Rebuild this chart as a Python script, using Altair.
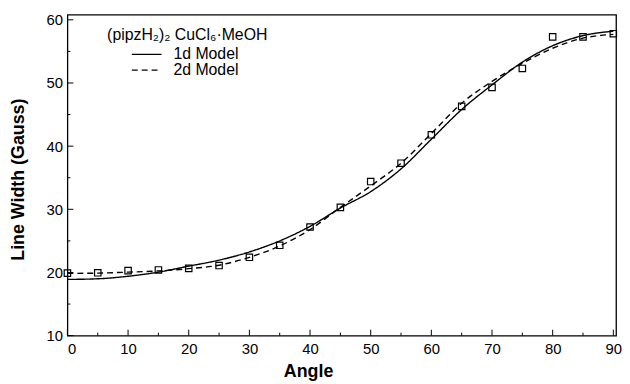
import altair as alt
import pandas as pd

# ---- data ----
angles = [0, 5, 10, 15, 20, 25, 30, 35, 40, 45, 50, 55, 60, 65, 70, 75, 80, 85, 90]
measured = [19.9, 19.95, 20.3, 20.4, 20.65, 21.1, 22.4, 24.3, 27.2, 30.3, 34.4, 37.3,
            41.8, 46.3, 49.3, 52.3, 57.3, 57.3, 57.8]
model_1d = [18.9, 19.0, 19.4, 20.05, 21.0, 21.95, 23.25, 25.0, 27.3, 30.2, 32.8, 36.4,
            41.1, 45.8, 49.7, 53.3, 55.9, 57.5, 58.2]
model_2d = [19.85, 19.9, 20.05, 20.25, 20.6, 21.15, 22.4, 24.2, 26.8, 30.3, 33.7, 37.3,
            42.0, 46.8, 50.25, 53.1, 55.5, 57.1, 57.7]
model_names = ["1d Model", "2d Model"]
legend_title = "(pipzH\u2082)\u2082 CuCl\u2086\u00b7MeOH"

x_major = [0, 10, 20, 30, 40, 50, 60, 70, 80, 90]
x_minor = [5, 15, 25, 35, 45, 55, 65, 75, 85]
y_major = [10, 20, 30, 40, 50, 60]
y_minor = [15, 25, 35, 45, 55]

# ---- layout ----
W, H = 554, 324
FONT = "Liberation Sans"

pts = pd.DataFrame({"angle": angles, "value": measured})
lines = pd.DataFrame({
    "angle": angles + angles,
    "value": model_1d + model_2d,
    "model": [model_names[0]] * len(angles) + [model_names[1]] * len(angles),
})

xs = alt.Scale(domain=[0, 90.45], nice=False, zero=False)
ys = alt.Scale(domain=[10, 60.8], nice=False, zero=False)

xaxis = alt.Axis(title="Angle", values=x_major, format="d", ticks=False, domain=False,
                 grid=False, labelFontSize=15, labelPadding=6, labelColor="black",
                 labelFont=FONT, titleFont=FONT, titleFontSize=18, titleFontWeight="bold",
                 titleColor="black", titleX=243, titleY=27)
yaxis = alt.Axis(title="Line Width (Gauss)", values=y_major, format="d", ticks=False,
                 domain=False, grid=False, labelFontSize=15, labelPadding=5,
                 labelColor="black", labelFont=FONT, titleFont=FONT, titleFontSize=18,
                 titleFontWeight="bold", titleColor="black", titleX=-40, titleY=166)

X = alt.X("angle:Q", scale=xs, axis=xaxis)
Y = alt.Y("value:Q", scale=ys, axis=yaxis)

dash = alt.StrokeDash("model:N", scale=alt.Scale(domain=model_names, range=[[1, 0], [6, 4]]),
                      legend=None)

line_layer = alt.Chart(lines).mark_line(color="black", strokeWidth=1.4,
                                        interpolate="monotone").encode(x=X, y=Y, strokeDash=dash)
point_layer = alt.Chart(pts).mark_point(shape="square", size=42, filled=False, color="black",
                                        strokeWidth=1.2, opacity=1).encode(x=X, y=Y)

xt_major = alt.Chart(pd.DataFrame({"angle": x_major})).mark_rule(color="black", strokeWidth=1).encode(
    x=X, y=alt.value(H), y2=alt.value(H - 6))
xt_minor = alt.Chart(pd.DataFrame({"angle": x_minor})).mark_rule(color="black", strokeWidth=1).encode(
    x=X, y=alt.value(H), y2=alt.value(H - 3))
yt_major = alt.Chart(pd.DataFrame({"value": y_major})).mark_rule(color="black", strokeWidth=1).encode(
    y=Y, x=alt.value(0), x2=alt.value(6))
yt_minor = alt.Chart(pd.DataFrame({"value": y_minor})).mark_rule(color="black", strokeWidth=1).encode(
    y=Y, x=alt.value(0), x2=alt.value(3))

# ---- legend drawn inside the plot ----
leg_title = alt.Chart(pd.DataFrame({"t": [legend_title]})).mark_text(
    font=FONT, fontSize=16, color="black", align="center", baseline="middle").encode(
    x=alt.value(121), y=alt.value(20), text="t:N")
leg_l1 = alt.Chart(pd.DataFrame({"model": model_names[:1]})).mark_rule(
    color="black", strokeWidth=1.3).encode(x=alt.value(65), x2=alt.value(95), y=alt.value(40),
                                           strokeDash=dash)
leg_l2 = alt.Chart(pd.DataFrame({"model": model_names[1:]})).mark_rule(
    color="black", strokeWidth=1.3).encode(x=alt.value(65), x2=alt.value(95), y=alt.value(56),
                                           strokeDash=dash)
leg_t1 = alt.Chart(pd.DataFrame({"t": model_names[:1]})).mark_text(
    font=FONT, fontSize=16, color="black", align="left", baseline="middle").encode(
    x=alt.value(107), y=alt.value(40), text="t:N")
leg_t2 = alt.Chart(pd.DataFrame({"t": model_names[1:]})).mark_text(
    font=FONT, fontSize=16, color="black", align="left", baseline="middle").encode(
    x=alt.value(107), y=alt.value(56), text="t:N")

chart = alt.layer(
    line_layer, point_layer, xt_major, xt_minor, yt_major, yt_minor,
    leg_title, leg_l1, leg_l2, leg_t1, leg_t2,
).properties(
    width=W, height=H,
    autosize=alt.AutoSizeParams(type="none"),
    padding={"left": 60, "top": 5, "right": 6, "bottom": 47},
    background="white",
).configure_view(stroke="black", strokeWidth=1.3)

chart.save("out.html", embed_options={"renderer": "svg", "actions": False})
